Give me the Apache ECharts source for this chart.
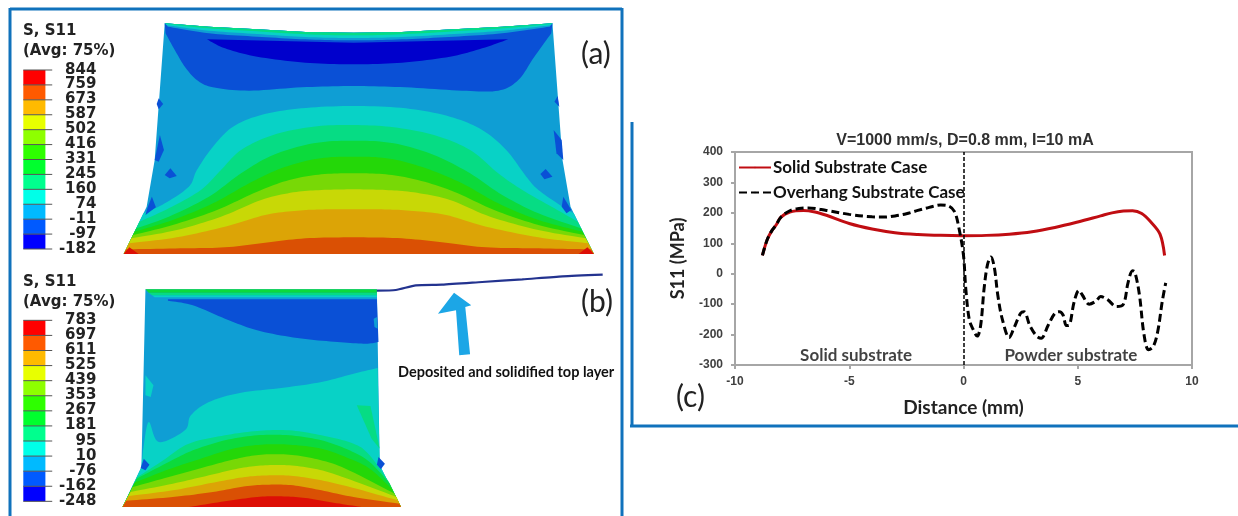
<!DOCTYPE html>
<html><head><meta charset="utf-8">
<style>html,body{margin:0;padding:0;background:#fff}#c{width:1238px;height:516px}#c canvas{filter:blur(.5px)}</style>
<script src="https://cdn.jsdelivr.net/npm/echarts@6/dist/echarts.min.js"></script>
</head><body><div id="c"></div>
<script>
// ---------- line chart values (panel c) ----------
const solidX=[-8.8,-8.6,-8.4,-8.2,-8,-7.6,-7,-6.5,-6,-5,-4,-3,-2,-1,0,1,2,3,4,5,6,6.5,7,7.4,7.8,8.2,8.6,8.8];
const solidY=[60,110,140,160,185,203,208,203,192,165,147,135,129,126,125,126,130,138,152,170,190,200,206,207,198,170,130,60];
const overX=[-8.8,-8.6,-8.4,-8.2,-8,-7.6,-7.2,-6.8,-6,-5,-4,-3.5,-3,-2.5,-2,-1.5,-1,-0.7,-0.4,-0.2,0,0.1,0.25,0.4,0.6,0.75,0.9,1.05,1.2,1.35,1.5,1.7,2,2.2,2.5,2.65,2.9,3.2,3.4,3.7,4,4.2,4.35,4.5,4.6,4.85,5.05,5.2,5.5,5.8,6,6.3,6.7,7,7.2,7.4,7.5,7.7,7.9,8.1,8.3,8.5,8.7,8.85];
const overY=[60,110,140,160,185,207,214,216,208,195,187,186,190,197,208,218,226,224,205,150,60,-50,-150,-180,-205,-170,-50,30,55,20,-70,-150,-210,-180,-130,-125,-170,-205,-212,-170,-130,-125,-135,-170,-170,-90,-55,-70,-100,-90,-75,-85,-108,-100,-30,10,5,-70,-200,-250,-240,-190,-90,-30];
const regionNames=['Solid substrate','Powder substrate'];
const regionX=[-4.7,4.7];
const regionY=[-268,-268];
// ---------- contour legends ----------
const legendA=[844,759,673,587,502,416,331,245,160,74,-11,-97,-182];
const legendB=[783,697,611,525,439,353,267,181,95,10,-76,-162,-248];
const spectrum=['#ff0000','#ff5a00','#ffba00','#e8ff00','#8eff00','#2eff00','#00ff2e','#00ff8e','#00ffe8','#00baff','#005aff','#0000ff'];
// ---------- contour colours (as rendered) ----------
const RED='#dd0f06',ROR='#da5004',ORG='#dca406',YEL='#c8d806',LIM='#78d806',GR2='#24d708',GR1='#0cda3c',TEA='#06dc84',CYA='#08d2c6',LBL='#0f9ed4',BLU='#0a50d6',DBL='#0000cc';
// ---------- contour bands of panel (a): [colour, smooth edge, straight closing edge] ----------
const topEdgeA=[[1375,70],[1250,80],[1130,88],[1000,96],[880,98],[760,96],[640,88],[520,80],[410,70]];
const bandsA=[
 [LBL,[],topEdgeA.concat([[385,480],[365,620],[308,762],[1478,762],[1420,620],[1400,480]])],
 [BLU,[[412,100],[435,150],[460,200],[490,240],[530,262],[620,272],[750,262],[880,258],[1010,262],[1150,272],[1240,272],[1290,240],[1330,170],[1372,100]],topEdgeA],
 [DBL,[[515,118],[560,145],[640,170],[760,188],[880,193],[1000,188],[1120,170],[1200,145],[1265,118]],[[880,128]]],
 [CYA,[[357,640],[410,610],[470,560],[490,510],[530,440],[580,380],[650,345],[750,325],[880,318],[1010,325],[1120,350],[1200,390],[1260,450],[1310,530],[1340,570],[1400,620],[1428,640]],[[1478,762],[308,762]]],
 [TEA,[[347,665],[420,625],[500,570],[550,510],[600,450],[680,405],[780,380],[880,375],[980,382],[1080,405],[1170,450],[1240,520],[1300,570],[1380,625],[1438,665]],[[1478,762],[308,762]]],
 [GR1,[[339,685],[420,650],[520,590],[600,520],[680,465],[780,430],[880,422],[980,430],[1080,465],[1170,520],[1250,585],[1340,640],[1446,685]],[[1478,762],[308,762]]],
 [GR2,[[335,695],[430,660],[530,610],[620,550],[700,505],[790,476],[880,470],[970,476],[1060,505],[1150,550],[1240,610],[1340,660],[1450,695]],[[1478,762],[308,762]]],
 [LIM,[[331,705],[430,675],[540,630],[640,575],[720,540],[800,523],[880,520],[960,523],[1040,540],[1130,575],[1230,630],[1340,675],[1454,705]],[[1478,762],[308,762]]],
 [YEL,[[327,715],[440,690],[550,650],[650,600],[730,577],[800,570],[880,568],[960,570],[1030,577],[1120,600],[1220,650],[1340,690],[1458,715]],[[1478,762],[308,762]]],
 [ORG,[[321,730],[440,712],[560,680],[660,645],[740,632],[810,628],[880,628],[950,628],[1020,632],[1110,645],[1210,680],[1340,712],[1464,730]],[[1478,762],[308,762]]],
 [ROR,[[314,748],[450,745],[560,742],[660,728],[760,715],[880,712],[1000,715],[1110,728],[1210,742],[1340,745],[1471,748]],[[1478,762],[308,762]]],
 [RED,[],[[308,762],[322,742],[345,762]]],
 [RED,[],[[1478,762],[1462,742],[1440,762]]],
 [BLU,[],[[395,295],[406,312],[395,328],[390,312]]],
 [BLU,[],[[1388,288],[1392,320],[1380,305]]],
 [BLU,[],[[398,405],[408,450],[395,485],[385,480]]],
 [BLU,[],[[1378,390],[1398,420],[1402,480],[1385,460]]],
 [BLU,[],[[424,505],[440,528],[422,535],[410,525]]],
 [BLU,[],[[1358,507],[1375,530],[1355,538],[1345,522]]],
 [BLU,[],[[378,590],[388,622],[362,645],[368,620]]],
 [BLU,[],[[1402,590],[1422,630],[1410,640],[1398,620]]],
 [LBL,[[418,80],[520,100],[640,110],[760,118],[880,121],[1000,118],[1130,110],[1250,100],[1368,80]],topEdgeA],
 [CYA,[[416,76],[520,92],[640,102],[760,111],[880,114],[1000,111],[1130,102],[1250,92],[1370,76]],topEdgeA],
 [TEA,[[414,72],[520,85],[640,94],[760,103],[880,106],[1000,103],[1130,94],[1250,85],[1372,72]],topEdgeA],
];
// ---------- contour bands of panel (b) ----------
const bandsB=[
 [LBL,[],[[362,82],[938,82],[945,610],[998,735],[305,735],[352,615]]],
 [BLU,[[418,116],[480,130],[560,170],[640,205],[740,228],[840,240],[910,245],[942,240]],[[938,112],[418,112]]],
 [CYA,[[356,565],[370,480],[395,540],[460,505],[475,460],[520,420],[600,392],[700,378],[800,360],[880,335],[940,318]],[[945,610],[998,735],[305,735],[352,615]]],
 [CYA,[],[[362,340],[382,370],[375,405],[362,400]]],
 [TEA,[],[[888,430],[922,432],[945,560],[925,530]]],
 [TEA,[[342,645],[400,600],[470,545],[560,520],[640,507],[720,505],[800,520],[880,545],[920,580],[968,660]],[[998,735],[305,735]]],
 [GR1,[[340,650],[420,600],[480,565],[560,535],[640,520],[720,520],[800,535],[870,565],[920,600],[970,665]],[[998,735],[305,735]]],
 [GR2,[[335,662],[420,622],[500,590],[580,560],[650,548],[720,548],[800,560],[870,590],[920,620],[975,680]],[[998,735],[305,735]]],
 [LIM,[[330,675],[420,645],[510,615],[590,590],[650,578],[720,578],[790,592],[860,620],[982,695]],[[998,735],[305,735]]],
 [YEL,[[325,690],[430,665],[520,640],[600,618],[660,610],[720,610],[790,622],[860,648],[987,705]],[[998,735],[305,735]]],
 [ORG,[[320,702],[430,685],[530,662],[610,645],[670,640],[730,642],[800,655],[880,678],[990,715]],[[998,735],[305,735]]],
 [ROR,[[314,716],[430,705],[530,690],[610,673],[670,668],[730,670],[800,685],[880,705],[994,725]],[[998,735],[305,735]]],
 [RED,[[470,735],[560,718],[640,705],[700,703],[760,708],[830,722],[900,735]],[]],
 [BLU,[],[[358,590],[372,608],[362,625],[350,618]]],
 [BLU,[],[[942,585],[958,605],[948,622],[938,608]]],
 [CYA,[],[[385,106],[938,106],[938,100],[378,100]]],
 [TEA,[],[[378,100],[938,100],[938,92],[370,92]]],
 [GR1,[],[[370,92],[938,92],[938,82],[362,82]]],
 [LBL,[],[[930,170],[938,165],[940,200],[932,195]]],
];
const layerX=[938,985,1035,1100,1200,1300,1400,1500];
const layerY=[86,84,70,68,60,52,43,38];
const arrowShape=[[1130,92],[1173,130],[1158,135],[1170,277],[1143,280],[1135,145],[1090,155]];

function spline(p){
  if(p.length<3) return p.slice();
  const out=[];
  for(let i=0;i<p.length-1;i++){
    const a=p[Math.max(i-1,0)],b=p[i],c=p[i+1],d=p[Math.min(i+2,p.length-1)];
    for(let k=0;k<10;k++){
      const t=k/10,t2=t*t,t3=t2*t;
      out.push([0,1].map(j=>0.5*(2*b[j]+(c[j]-a[j])*t+(2*a[j]-5*b[j]+4*c[j]-d[j])*t2+(3*b[j]-a[j]-3*c[j]+d[j])*t3)));
    }
  }
  out.push(p[p.length-1]);
  return out;
}
function bandSeries(bands,gi){
  return {type:'custom',xAxisIndex:gi,yAxisIndex:gi,silent:true,clip:false,z:2,animation:false,
    data:bands.map((b,i)=>[i]),
    renderItem:(params,api)=>{
      const b=bands[api.value(0)];
      const pts=spline(b[1]).concat(b[2]).map(q=>api.coord(q));
      return {type:'polygon',shape:{points:pts},style:{fill:b[0]}};
    }};
}
function colorbarSeries(vals,gi,top,step){
  return {type:'custom',xAxisIndex:gi,yAxisIndex:gi,silent:true,clip:false,z:3,animation:false,
    data:vals.map((v,i)=>[i,v]),
    renderItem:(params,api)=>{
      const i=api.value(0),v=api.value(1);
      const l=api.coord([58,top+i*step]),r=api.coord([113,top+(i+1)*step]),t=api.coord([130,top+i*step]),lab=api.coord([240,top+i*step-1]);
      const ch=[{type:'line',shape:{x1:l[0],y1:l[1],x2:t[0],y2:l[1]},style:{stroke:'#555',lineWidth:1}},
        {type:'text',style:{text:String(v),x:lab[0],y:lab[1],align:'right',verticalAlign:'middle',font:'bold 15px "DejaVu Sans"',fill:'#222'}}];
      if(i<spectrum.length) ch.unshift({type:'rect',shape:{x:l[0],y:l[1],width:r[0]-l[0],height:r[1]-l[1]},style:{fill:spectrum[i]}});
      return {type:'group',children:ch};
    }};
}
const hiddenX=(i)=>({gridIndex:i,type:'value',min:0,max:1568,show:false});
const hiddenY=(i,m)=>({gridIndex:i,type:'value',min:0,max:m,inverse:true,show:false});
const tickFont={fontFamily:'Liberation Sans',fontWeight:'bold',fontSize:12,color:'#404040'};
const chart=echarts.init(document.getElementById('c'),null,{renderer:'canvas'});
const frame={stroke:'#1072bc',lineWidth:3};
const T=(text,x,y,font,fill)=>({type:'text',z:20,style:{text,x,y,font,fill:fill||'#222',verticalAlign:'middle'}});
chart.setOption({
  animation:false,backgroundColor:'#fff',
  title:{text:'V=1000 mm/s, D=0.8 mm, I=10 mA',left:960,textAlign:'center',top:128,textStyle:{fontFamily:'Liberation Sans',fontWeight:'bold',fontSize:16,color:'#303030'}},
  legend:{data:['Solid Substrate Case','Overhang Substrate Case'],orient:'vertical',left:738,top:159,itemWidth:32,itemHeight:2,itemGap:8,padding:0,selectedMode:false,
    textStyle:{fontFamily:'Lato',fontWeight:'bold',fontSize:17,color:'#111',padding:[0,0,0,-3]}},
  grid:[
    {left:0,top:0,width:630,height:262},
    {left:0,top:262,width:630,height:254},
    {left:735,top:152,width:457,height:213,show:true,borderColor:'#a6a6a6',borderWidth:2,backgroundColor:'transparent'}
  ],
  xAxis:[hiddenX(0),hiddenX(1),
    {gridIndex:2,type:'value',min:-10,max:10,interval:5,name:'Distance (mm)',nameLocation:'middle',nameGap:33,
     nameTextStyle:{fontFamily:'Lato',fontWeight:'bold',fontSize:19,color:'#222'},
     axisLine:{onZero:false,lineStyle:{color:'#a6a6a6',width:2}},axisTick:{show:true,length:4,lineStyle:{color:'#a6a6a6',width:2}},splitLine:{show:false},axisLabel:{...tickFont,margin:11}}],
  yAxis:[hiddenY(0,786),hiddenY(1,762),
    {gridIndex:2,type:'value',min:-300,max:400,interval:100,name:'S11 (MPa)',nameLocation:'middle',nameGap:48,
     nameTextStyle:{fontFamily:'Lato',fontWeight:'bold',fontSize:18,color:'#222'},
     axisLine:{onZero:false,lineStyle:{color:'#a6a6a6',width:2}},axisTick:{show:true,length:4,lineStyle:{color:'#a6a6a6',width:2}},splitLine:{show:false},axisLabel:{...tickFont,margin:12}}],
  series:[
    bandSeries(bandsA,0),colorbarSeries(legendA,0,210,44.75),
    bandSeries(bandsB,1),colorbarSeries(legendB,1,175,45.25),
    {type:'line',xAxisIndex:1,yAxisIndex:1,silent:true,symbol:'none',z:4,smooth:0.2,lineStyle:{color:'#23338f',width:2.2},data:layerX.map((x,i)=>[x,layerY[i]])},
    {type:'custom',xAxisIndex:1,yAxisIndex:1,silent:true,clip:false,z:4,data:[[0]],renderItem:(p,api)=>({type:'polygon',shape:{points:arrowShape.map(q=>api.coord(q))},style:{fill:'#1ca6e6'}})},
    {name:'Overhang Substrate Case',type:'line',xAxisIndex:2,yAxisIndex:2,smooth:0.35,symbol:'none',z:5,
     lineStyle:{color:'#000',width:3,type:[8,4]},itemStyle:{color:'#000'},data:overX.map((x,i)=>[x,overY[i]]),
     markLine:{silent:true,symbol:'none',label:{show:false},lineStyle:{color:'#000',width:1.5,type:[4,2]},data:[{xAxis:0}]}},
    {name:'Solid Substrate Case',type:'line',xAxisIndex:2,yAxisIndex:2,smooth:0.35,symbol:'none',z:4,
     lineStyle:{color:'#c00d12',width:3},itemStyle:{color:'#c00d12'},data:solidX.map((x,i)=>[x,solidY[i]])},
    {type:'scatter',xAxisIndex:2,yAxisIndex:2,symbolSize:0,silent:true,z:6,
     data:regionNames.map((n,i)=>({name:n,value:[regionX[i],regionY[i]]})),
     label:{show:true,position:'inside',formatter:'{b}',fontFamily:'Lato',fontWeight:'bold',fontSize:17,color:'#111'}}
  ],
  graphic:[
    {type:'line',z:15,shape:{x1:10,y1:9,x2:622,y2:9},style:frame},
    {type:'line',z:15,shape:{x1:10,y1:8,x2:10,y2:516},style:frame},
    {type:'line',z:15,shape:{x1:622,y1:8,x2:622,y2:516},style:frame},
    {type:'line',z:15,shape:{x1:632,y1:122,x2:632,y2:427},style:frame},
    {type:'line',z:15,shape:{x1:630,y1:426,x2:1238,y2:426},style:frame},
    T('S, S11',23,31,'bold 15px "DejaVu Sans"'),
    T('(Avg: 75%)',23,51,'bold 15px "DejaVu Sans"'),
    T('S, S11',23,282,'bold 15px "DejaVu Sans"'),
    T('(Avg: 75%)',23,302,'bold 15px "DejaVu Sans"'),
    T('(a)',581,54,'30px "Lato"'),
    T('(b)',581,302,'30px "Lato"'),
    T('(c)',676,397,'30px "Lato"'),
    T('Deposited and solidified top layer',398,372,'bold 14.5px "Lato"','#111')
  ]
});
</script></body></html>
